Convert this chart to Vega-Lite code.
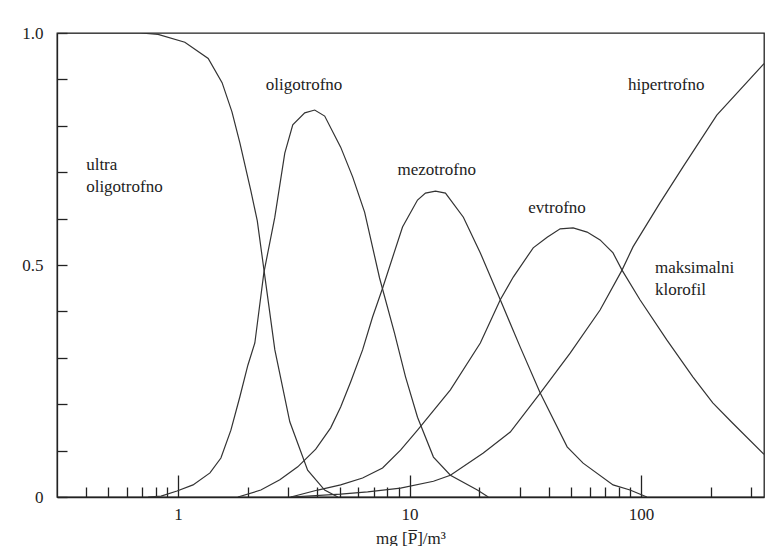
{
  "$schema": "https://vega.github.io/schema/vega-lite/v6.json",
  "width": 707,
  "height": 464,
  "autosize": {"type": "none"},
  "padding": {"left": 57, "top": 33, "right": 3, "bottom": 49},
  "background": "white",
  "config": {
    "view": {"stroke": "#222", "strokeWidth": 1.3},
    "axis": {"domainColor": "#222", "domainWidth": 1.3, "tickColor": "#222", "tickWidth": 1.3, "grid": false,
      "labelFont": "Liberation Serif", "labelFontSize": 17, "labelColor": "#222",
      "titleFont": "Liberation Serif", "titleFontSize": 17, "titleFontWeight": "normal", "titleColor": "#222"}
  },
  "datasets": {
    "curves": [
      {"series": "ultra", "x": 0.3, "y": 1.0},
      {"series": "ultra", "x": 0.69, "y": 1.0},
      {"series": "ultra", "x": 0.82, "y": 0.997},
      {"series": "ultra", "x": 1.07, "y": 0.98},
      {"series": "ultra", "x": 1.35, "y": 0.945},
      {"series": "ultra", "x": 1.55, "y": 0.893},
      {"series": "ultra", "x": 1.71, "y": 0.83},
      {"series": "ultra", "x": 1.85, "y": 0.763},
      {"series": "ultra", "x": 2.064, "y": 0.66},
      {"series": "ultra", "x": 2.2, "y": 0.595},
      {"series": "ultra", "x": 2.35, "y": 0.49},
      {"series": "ultra", "x": 2.62, "y": 0.317},
      {"series": "ultra", "x": 3.04, "y": 0.162},
      {"series": "ultra", "x": 3.63, "y": 0.058},
      {"series": "ultra", "x": 4.3, "y": 0.015},
      {"series": "ultra", "x": 4.9, "y": 0.0},

      {"series": "oligo", "x": 0.743, "y": 0.0},
      {"series": "oligo", "x": 0.845, "y": 0.002},
      {"series": "oligo", "x": 0.99, "y": 0.013},
      {"series": "oligo", "x": 1.161, "y": 0.026},
      {"series": "oligo", "x": 1.374, "y": 0.052},
      {"series": "oligo", "x": 1.532, "y": 0.084},
      {"series": "oligo", "x": 1.692, "y": 0.144},
      {"series": "oligo", "x": 1.85, "y": 0.216},
      {"series": "oligo", "x": 2.003, "y": 0.284},
      {"series": "oligo", "x": 2.147, "y": 0.332},
      {"series": "oligo", "x": 2.348, "y": 0.483},
      {"series": "oligo", "x": 2.619, "y": 0.603},
      {"series": "oligo", "x": 2.892, "y": 0.741},
      {"series": "oligo", "x": 3.131, "y": 0.802},
      {"series": "oligo", "x": 3.527, "y": 0.828},
      {"series": "oligo", "x": 3.895, "y": 0.834},
      {"series": "oligo", "x": 4.301, "y": 0.821},
      {"series": "oligo", "x": 5.042, "y": 0.754},
      {"series": "oligo", "x": 5.68, "y": 0.69},
      {"series": "oligo", "x": 6.398, "y": 0.614},
      {"series": "oligo", "x": 7.424, "y": 0.472},
      {"series": "oligo", "x": 8.615, "y": 0.353},
      {"series": "oligo", "x": 9.612, "y": 0.259},
      {"series": "oligo", "x": 10.83, "y": 0.172},
      {"series": "oligo", "x": 12.69, "y": 0.086},
      {"series": "oligo", "x": 15.02, "y": 0.047},
      {"series": "oligo", "x": 19.64, "y": 0.015},
      {"series": "oligo", "x": 21.9, "y": 0.0},

      {"series": "mezo", "x": 1.814, "y": 0.0},
      {"series": "mezo", "x": 2.279, "y": 0.015},
      {"series": "mezo", "x": 2.753, "y": 0.037},
      {"series": "mezo", "x": 3.29, "y": 0.065},
      {"series": "mezo", "x": 3.935, "y": 0.103},
      {"series": "mezo", "x": 4.565, "y": 0.149},
      {"series": "mezo", "x": 5.042, "y": 0.194},
      {"series": "mezo", "x": 5.568, "y": 0.248},
      {"series": "mezo", "x": 6.271, "y": 0.317},
      {"series": "mezo", "x": 6.925, "y": 0.388},
      {"series": "mezo", "x": 7.65, "y": 0.45},
      {"series": "mezo", "x": 9.329, "y": 0.582},
      {"series": "mezo", "x": 10.83, "y": 0.64},
      {"series": "mezo", "x": 11.72, "y": 0.655},
      {"series": "mezo", "x": 12.95, "y": 0.659},
      {"series": "mezo", "x": 14.3, "y": 0.655},
      {"series": "mezo", "x": 17.09, "y": 0.603},
      {"series": "mezo", "x": 20.23, "y": 0.526},
      {"series": "mezo", "x": 24.67, "y": 0.425},
      {"series": "mezo", "x": 30.09, "y": 0.323},
      {"series": "mezo", "x": 36.7, "y": 0.224},
      {"series": "mezo", "x": 47.97, "y": 0.108},
      {"series": "mezo", "x": 56.23, "y": 0.073},
      {"series": "mezo", "x": 75.74, "y": 0.026},
      {"series": "mezo", "x": 89.67, "y": 0.015},
      {"series": "mezo", "x": 106.1, "y": 0.0},

      {"series": "evtro", "x": 3.069, "y": 0.0},
      {"series": "evtro", "x": 4.012, "y": 0.015},
      {"series": "evtro", "x": 5.042, "y": 0.026},
      {"series": "evtro", "x": 6.271, "y": 0.041},
      {"series": "evtro", "x": 7.65, "y": 0.0625},
      {"series": "evtro", "x": 9.146, "y": 0.101},
      {"series": "evtro", "x": 10.83, "y": 0.144},
      {"series": "evtro", "x": 15.02, "y": 0.231},
      {"series": "evtro", "x": 20.23, "y": 0.332},
      {"series": "evtro", "x": 24.67, "y": 0.425},
      {"series": "evtro", "x": 28.07, "y": 0.474},
      {"series": "evtro", "x": 34.23, "y": 0.537},
      {"series": "evtro", "x": 39.33, "y": 0.56},
      {"series": "evtro", "x": 44.76, "y": 0.578},
      {"series": "evtro", "x": 50.92, "y": 0.58},
      {"series": "evtro", "x": 58.52, "y": 0.571},
      {"series": "evtro", "x": 66.57, "y": 0.554},
      {"series": "evtro", "x": 75.74, "y": 0.526},
      {"series": "evtro", "x": 82.81, "y": 0.489},
      {"series": "evtro", "x": 99.0, "y": 0.425},
      {"series": "evtro", "x": 129.5, "y": 0.338},
      {"series": "evtro", "x": 167.5, "y": 0.259},
      {"series": "evtro", "x": 204.3, "y": 0.203},
      {"series": "evtro", "x": 249.2, "y": 0.159},
      {"series": "evtro", "x": 340, "y": 0.092},

      {"series": "hiper", "x": 3.069, "y": 0.0},
      {"series": "hiper", "x": 5.042, "y": 0.006},
      {"series": "hiper", "x": 6.592, "y": 0.011},
      {"series": "hiper", "x": 9.146, "y": 0.019},
      {"series": "hiper", "x": 12.69, "y": 0.034},
      {"series": "hiper", "x": 15.02, "y": 0.047},
      {"series": "hiper", "x": 20.84, "y": 0.095},
      {"series": "hiper", "x": 27.25, "y": 0.14},
      {"series": "hiper", "x": 36.7, "y": 0.224},
      {"series": "hiper", "x": 49.43, "y": 0.31},
      {"series": "hiper", "x": 66.57, "y": 0.403},
      {"series": "hiper", "x": 82.81, "y": 0.489},
      {"series": "hiper", "x": 92.37, "y": 0.539},
      {"series": "hiper", "x": 120.8, "y": 0.634},
      {"series": "hiper", "x": 151.7, "y": 0.711},
      {"series": "hiper", "x": 212.6, "y": 0.823},
      {"series": "hiper", "x": 340, "y": 0.934}
    ],
    "labels": [
      {"label": "ultra", "x": 0.401, "y": 0.7155},
      {"label": "oligotrofno", "x": 0.401, "y": 0.668},
      {"label": "oligotrofno", "x": 2.395, "y": 0.888},
      {"label": "mezotrofno", "x": 8.878, "y": 0.7047},
      {"label": "evtrofno", "x": 32.59, "y": 0.6228},
      {"label": "hipertrofno", "x": 87.9, "y": 0.888},
      {"label": "maksimalni", "x": 114.9, "y": 0.4935},
      {"label": "klorofil", "x": 114.9, "y": 0.446}
    ]
  },
  "layer": [
    {
      "data": {"name": "curves"},
      "mark": {"type": "line", "color": "#333", "strokeWidth": 1.2, "clip": true},
      "encoding": {
        "x": {"field": "x", "type": "quantitative",
          "scale": {"type": "log", "domain": [0.3, 340], "nice": false},
          "axis": {
            "values": [0.4, 0.5, 0.6, 0.7, 0.8, 0.9, 1, 2, 3, 4, 5, 6, 7, 8, 9, 10, 20, 30, 40, 50, 60, 70, 80, 90, 100, 200, 300],
            "labelExpr": "datum.value == 1 || datum.value == 10 || datum.value == 100 ? datum.label : ''",
            "tickSize": {"condition": {"test": "datum.value == 1 || datum.value == 10 || datum.value == 100", "value": -22}, "value": -10},
            "labelPadding": 31,
            "labelFlush": false,
            "labelOverlap": false,
            "labelBaseline": "top",
            "format": "~g",
            "title": "mg [P̅]/m³",
            "titlePadding": -4
          }
        },
        "y": {"field": "y", "type": "quantitative",
          "scale": {"domain": [0, 1], "nice": false},
          "axis": {
            "values": [0, 0.1, 0.2, 0.3, 0.4, 0.5, 0.6, 0.7, 0.8, 0.9, 1],
            "labelExpr": "datum.value == 0 ? '0' : datum.value == 0.5 ? '0.5' : datum.value == 1 ? '1.0' : ''",
            "tickSize": -10,
            "labelPadding": 24,
            "labelFlush": false,
            "labelOverlap": false,
            "title": null
          }
        },
        "detail": {"field": "series"}
      }
    },
    {
      "data": {"name": "labels"},
      "mark": {"type": "text", "align": "left", "baseline": "middle", "font": "Liberation Serif", "fontSize": 17, "color": "#222"},
      "encoding": {
        "x": {"field": "x", "type": "quantitative"},
        "y": {"field": "y", "type": "quantitative"},
        "text": {"field": "label"}
      }
    }
  ]
}
